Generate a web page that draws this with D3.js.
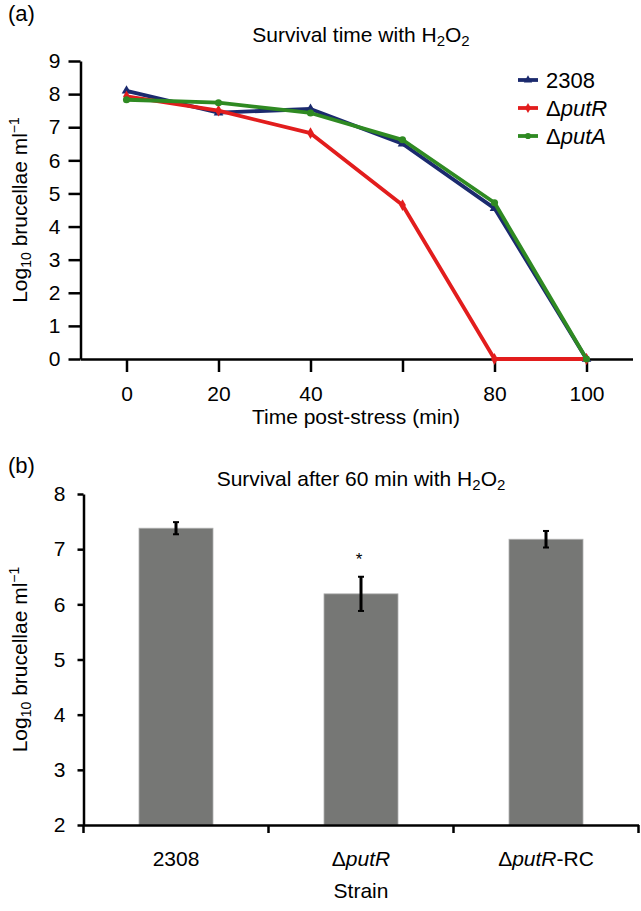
<!DOCTYPE html>
<html><head><meta charset="utf-8">
<script src="https://cdn.jsdelivr.net/npm/d3@7"></script>
<style>body{margin:0;background:#fff}svg{display:block}text{font-family:"Liberation Sans",Arial,sans-serif;fill:#000}</style>
</head><body>
<script>
// ---- Data (panel a) ----
const times = [0, 20, 40, 60, 80, 100];
const timeTickLabels = ["0", "20", "40", "", "80", "100"];
const s2308 = [8.1, 7.44, 7.55, 6.5, 4.55, 0];
const sPutR = [7.93, 7.5, 6.82, 4.65, 0, 0];
const sPutA = [7.83, 7.74, 7.43, 6.62, 4.72, 0];
const yTicksA = [0, 1, 2, 3, 4, 5, 6, 7, 8, 9];
// ---- Data (panel b) ----
const strains = ["2308", "ΔputR", "ΔputR-RC"];
const survival = [7.38, 6.19, 7.18];
const survivalErr = [0.11, 0.31, 0.15];
const significant = [false, true, false];
const yTicksB = [2, 3, 4, 5, 6, 7, 8];

const W = 641, H = 911;
const svg = d3.select("body").append("svg").attr("width", W).attr("height", H);
const FS = 21;

// ===== Panel (a) =====
const xA = d3.scaleLinear().domain([-10, 110]).range([80.5, 632.5]);
const yA = d3.scaleLinear().domain([0, 9]).range([359, 61]);
const gA = svg.append("g");

gA.append("text").attr("x", 8).attr("y", 21).attr("font-size", 22).text("(a)");
const tA = gA.append("text").attr("x", 361).attr("y", 42).attr("text-anchor", "middle").attr("font-size", 21);
tA.append("tspan").text("Survival time with H");
tA.append("tspan").attr("font-size", 15).attr("dy", 4).text("2");
tA.append("tspan").attr("dy", -4).text("O");
tA.append("tspan").attr("font-size", 15).attr("dy", 4).text("2");

const yAxA = gA.append("g").attr("transform", `translate(${xA.range()[0]},0)`)
  .call(d3.axisLeft(yA).tickValues(yTicksA).tickFormat(d3.format("d")).tickSize(12).tickPadding(8).tickSizeOuter(0));
const xAxA = gA.append("g").attr("transform", `translate(0,${yA(0)})`)
  .call(d3.axisBottom(xA).tickValues(times).tickFormat((d, i) => timeTickLabels[i]).tickSize(13).tickPadding(14).tickSizeOuter(0));
[yAxA, xAxA].forEach(g => {
  g.selectAll("path,line").attr("stroke", "#000").attr("stroke-width", 2.5);
  g.selectAll("text").attr("font-size", FS).attr("font-family", '"Liberation Sans",Arial,sans-serif');
});

gA.append("text").attr("x", 356).attr("y", 424).attr("text-anchor", "middle").attr("font-size", FS).text("Time post-stress (min)");

function yTitle(g, cx, cy) {
  const t = g.append("text").attr("transform", `translate(${cx},${cy}) rotate(-90)`).attr("text-anchor", "middle").attr("font-size", FS);
  t.append("tspan").text("Log");
  t.append("tspan").attr("font-size", 14).attr("dy", 4).text("10");
  t.append("tspan").attr("dy", -4).text(" brucellae ml");
  t.append("tspan").attr("font-size", 14).attr("dy", -8).text("−1");
}
yTitle(gA, 27, yA(4.5));

const seriesA = [
  {name: "2308", vals: s2308, color: "#1b2a6e", sym: d3.symbolTriangle},
  {name: "putR", vals: sPutR, color: "#e21d1d", sym: d3.symbolDiamond},
  {name: "putA", vals: sPutA, color: "#2f8a22", sym: d3.symbolCircle}
];
const line = d3.line().x(d => xA(d[0])).y(d => yA(d[1]));
seriesA.forEach(s => {
  const pts = times.map((t, i) => [t, s.vals[i]]);
  gA.append("path").attr("d", line(pts)).attr("fill", "none").attr("stroke", s.color).attr("stroke-width", 3.8).attr("stroke-linejoin", "round");
  gA.selectAll(null).data(pts).enter().append("path")
    .attr("transform", d => `translate(${xA(d[0])},${yA(d[1])})`)
    .attr("d", d3.symbol().type(s.sym).size(40)).attr("fill", s.color);
});

// legend
const legY = d3.scalePoint().domain(seriesA.map(s => s.name)).range([80, 136]);
seriesA.forEach(s => {
  const y = legY(s.name);
  gA.append("line").attr("x1", 518).attr("x2", 538).attr("y1", y).attr("y2", y).attr("stroke", s.color).attr("stroke-width", 3.8);
  gA.append("path").attr("transform", `translate(528,${y})`).attr("d", d3.symbol().type(s.sym).size(30)).attr("fill", s.color);
  const t = gA.append("text").attr("x", 546).attr("y", y + 8).attr("font-size", 22);
  if (s.name === "2308") t.text("2308");
  else { t.append("tspan").text("Δ"); t.append("tspan").attr("font-style", "italic").text(s.name); }
});

// ===== Panel (b) =====
const xB = d3.scaleBand().domain(strains).range([83.5, 638.5]).paddingInner(0.6).paddingOuter(0.3);
const yB = d3.scaleLinear().domain([2, 8]).range([825, 494]);
const gB = svg.append("g");
gB.append("text").attr("x", 8).attr("y", 473).attr("font-size", 22).text("(b)");
const tB = gB.append("text").attr("x", 361).attr("y", 486).attr("text-anchor", "middle").attr("font-size", 21);
tB.append("tspan").text("Survival after 60 min with H");
tB.append("tspan").attr("font-size", 15).attr("dy", 4).text("2");
tB.append("tspan").attr("dy", -4).text("O");
tB.append("tspan").attr("font-size", 15).attr("dy", 4).text("2");

// bars
gB.selectAll("rect.bar").data(strains).enter().append("rect").attr("class", "bar")
  .attr("x", d => xB(d)).attr("width", xB.bandwidth())
  .attr("y", (d, i) => yB(survival[i])).attr("height", (d, i) => yB(2) - yB(survival[i]))
  .attr("fill", "#767775").attr("stroke", "#b0b0b0").attr("stroke-width", 0.8);
// error bars
strains.forEach((d, i) => {
  const cx = xB(d) + xB.bandwidth() / 2;
  const y1 = yB(survival[i] + survivalErr[i]), y2 = yB(survival[i] - survivalErr[i]);
  gB.append("line").attr("x1", cx).attr("x2", cx).attr("y1", y1).attr("y2", y2).attr("stroke", "#000").attr("stroke-width", 3);
  [y1, y2].forEach(y => gB.append("line").attr("x1", cx - 3).attr("x2", cx + 3).attr("y1", y).attr("y2", y).attr("stroke", "#000").attr("stroke-width", 2));
  if (significant[i]) gB.append("text").attr("x", cx - 2).attr("y", y1 - 12).attr("text-anchor", "middle").attr("font-size", 17).text("*");
});

const yAxB = gB.append("g").attr("transform", `translate(${xB.range()[0]},0)`)
  .call(d3.axisLeft(yB).tickValues(yTicksB).tickFormat(d3.format("d")).tickSize(6).tickPadding(12).tickSizeOuter(0));
const xAxB = gB.append("g").attr("transform", `translate(0,${yB(2)})`)
  .call(d3.axisBottom(xB).tickSize(0).tickPadding(26).tickSizeOuter(0));
[yAxB, xAxB].forEach(g => {
  g.selectAll("path,line").attr("stroke", "#000").attr("stroke-width", 2.5);
  g.selectAll("text").attr("font-size", FS).attr("font-family", '"Liberation Sans",Arial,sans-serif');
});
xAxB.selectAll(".tick text").each(function(d) {
  const t = d3.select(this);
  if (d.startsWith("Δ")) {
    t.text("");
    t.append("tspan").text("Δ");
    t.append("tspan").attr("font-style", "italic").text("putR");
    if (d.endsWith("-RC")) t.append("tspan").text("-RC");
  }
});
// category boundary ticks
const bounds = strains.map(d => xB(d) - xB.step() * xB.paddingOuter()).concat([xB.range()[1]]);
gB.selectAll("line.bnd").data(bounds).enter().append("line").attr("class", "bnd")
  .attr("x1", d => d).attr("x2", d => d).attr("y1", yB(2)).attr("y2", yB(2) + 8)
  .attr("stroke", "#000").attr("stroke-width", 2.5);

gB.append("text").attr("x", 361).attr("y", 898).attr("text-anchor", "middle").attr("font-size", FS).text("Strain");
yTitle(gB, 27, yB(5));
</script>
</body></html>
